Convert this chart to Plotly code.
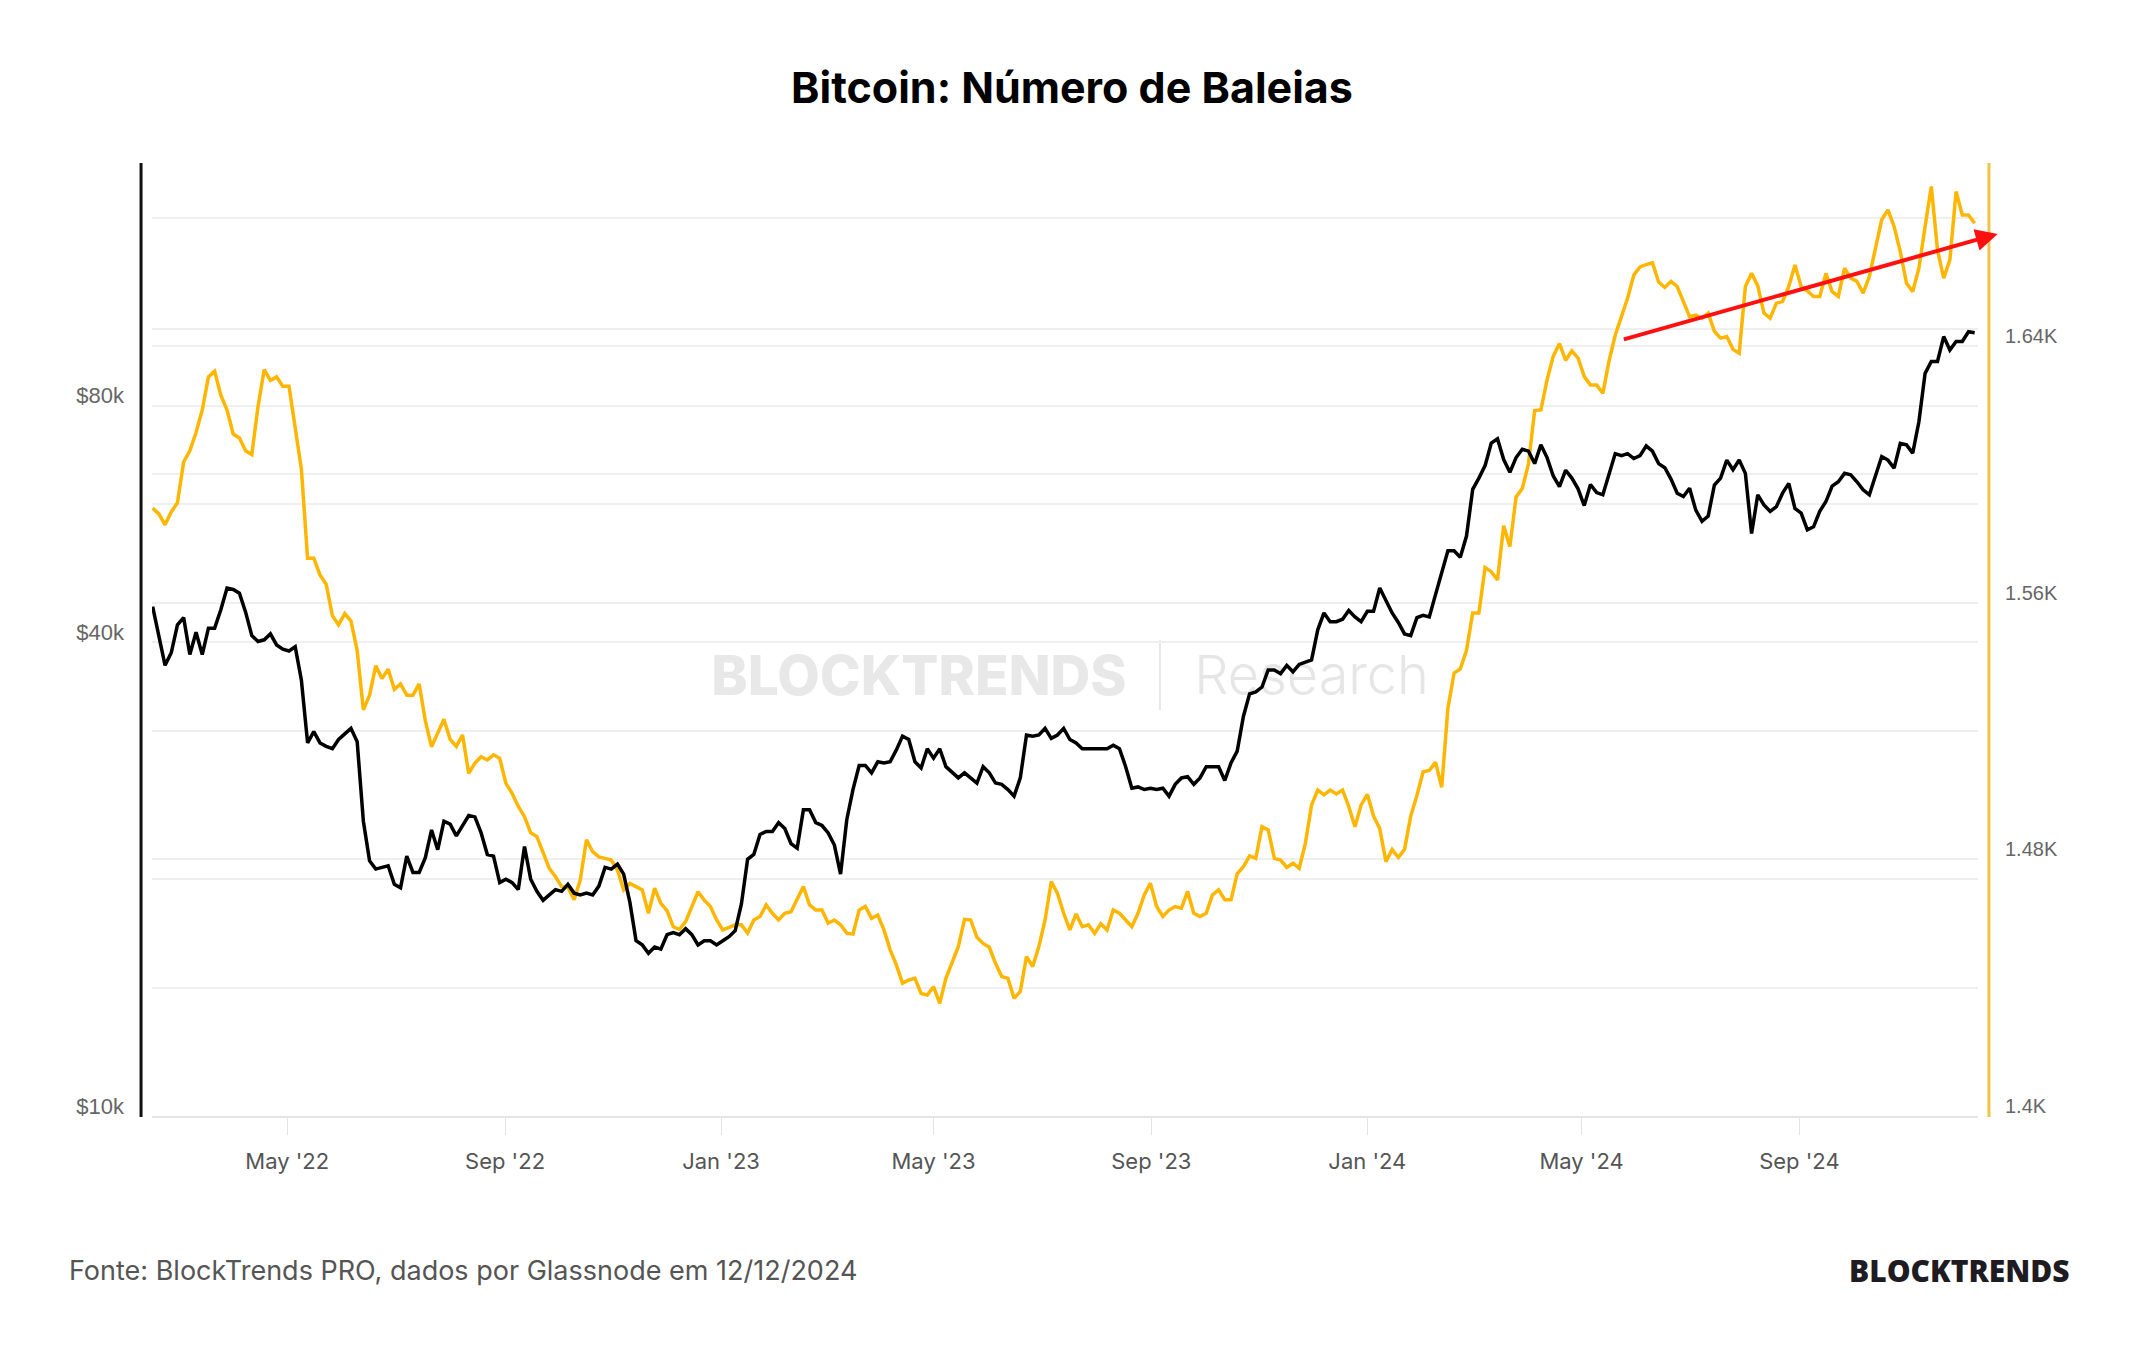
import pandas as pd
import plotly.graph_objects as go

# ---------------- data (read twice a week, every 3.5 days from 14 Feb 2022) ----------------
btc_price = [
    44400, 40800, 37400, 38800, 42100, 43000, 38600, 41200, 38600, 41700,
    41700, 44000, 46900, 46700, 46200, 43700, 40800, 40100, 40300, 41000,
    39700, 39200, 39000, 39500, 35800, 29800, 30800, 29800, 29500, 29300,
    30100, 30600, 31100, 29900, 23700, 21100, 20600, 20700, 20800, 19700,
    19500, 21400, 20400, 20400, 21300, 23100, 21800, 23700, 23500, 22700,
    23400, 24100, 24000, 22900, 21500, 21400, 19800, 20000, 19800, 19400,
    22000, 20000, 19300, 18800, 19100, 19400, 19300, 19700, 19200, 19100,
    19200, 19100, 19600, 20700, 20600, 20900, 20300, 18700, 16700, 16500,
    16100, 16400, 16300, 17000, 17100, 17000, 17300, 17000, 16500, 16700,
    16700, 16500, 16700, 16900, 17200, 18600, 21200, 21500, 22800, 23000,
    23000, 23600, 23200, 22200, 21900, 24500, 24500, 23600, 23400, 22900,
    22100, 20300, 23800, 26000, 27900, 27900, 27300, 28200, 28100, 28200,
    29200, 30400, 30100, 28200, 27700, 29300, 28500, 29300, 27800, 27300,
    26900, 27300, 26900, 26500, 27800, 27300, 26500, 26400, 26000, 25500,
    26900, 30500, 30400, 30500, 31100, 30200, 30500, 31100, 30100, 29800,
    29300, 29300, 29300, 29300, 29300, 29600, 29300, 27800, 26100, 26200,
    26000, 26100, 26000, 26100, 25500, 26400, 26900, 27000, 26400, 26900,
    27800, 27800, 27800, 26700, 28100, 29100, 32200, 34400, 34600, 35100,
    36900, 36900, 36500, 37400, 36700, 37500, 37800, 38000, 41500, 43600,
    42500, 42500, 42800, 43900, 43100, 42500, 43800, 43800, 46900, 45200,
    43600, 42400, 41000, 40800, 43000, 43300, 43100, 46000, 49200, 52300,
    52300, 51300, 54600, 62600, 64700, 67100, 71700, 72600, 68300, 65800,
    68700, 70400, 70000, 67500, 71300, 68700, 65100, 63100, 66200, 64700,
    62700, 59700, 63500, 62000, 61600, 65400, 69500, 69100, 69500, 68500,
    69100, 71100, 70000, 67500, 66700, 64500, 61900, 61300, 62800, 58900,
    57000, 57900, 63400, 64700, 68200, 66300, 68200, 65600, 55000, 61600,
    59800, 58700, 59500, 61900, 63700, 59200, 58400, 55600, 56100, 58700,
    60400, 63200, 64000, 65600, 65300, 64000, 62500, 61600, 65000, 68900,
    68200, 66600, 71600, 71300, 69600, 76300, 87900, 91000, 91000, 97900,
    94100, 96500, 96500, 99300, 99000,
]

whales = [
    1589.5, 1587.7, 1584.3, 1588.3, 1591.2, 1603.9, 1607.4, 1613.1, 1620.1, 1630.4,
    1632.2, 1624.7, 1620.1, 1612.6, 1611.4, 1607.4, 1606.2, 1621.2, 1632.7, 1629.3,
    1630.4, 1627.5, 1627.5, 1614.3, 1601.6, 1573.9, 1573.9, 1568.7, 1565.8, 1556.0,
    1553.1, 1556.6, 1554.3, 1545.1, 1526.6, 1531.2, 1540.4, 1536.4, 1539.3, 1533.0,
    1534.7, 1531.2, 1531.2, 1534.7, 1523.2, 1515.1, 1519.7, 1523.7, 1517.4, 1515.2,
    1518.8, 1506.8, 1510.0, 1512.0, 1511.0, 1512.6, 1511.5, 1503.7, 1500.6, 1496.5,
    1493.3, 1488.3, 1487.1, 1482.1, 1477.2, 1474.6, 1471.5, 1471.3, 1467.4, 1473.6,
    1486.1, 1482.4, 1480.8, 1480.3, 1479.8, 1476.7, 1470.5, 1472.5, 1471.5, 1470.5,
    1463.2, 1471.0, 1466.3, 1464.0, 1459.0, 1458.2, 1460.6, 1465.3, 1469.9, 1467.3,
    1465.3, 1461.1, 1458.0, 1458.8, 1459.6, 1459.6, 1457.0, 1461.1, 1462.2, 1465.8,
    1463.2, 1461.1, 1463.2, 1463.7, 1467.4, 1471.5, 1465.8, 1464.2, 1464.2, 1460.1,
    1461.1, 1459.6, 1457.0, 1456.7, 1464.2, 1465.3, 1461.6, 1462.7, 1458.0, 1451.8,
    1447.1, 1441.4, 1442.4, 1442.9, 1438.2, 1437.7, 1440.3, 1435.1, 1442.9, 1447.6,
    1452.8, 1461.3, 1461.1, 1455.7, 1453.8, 1452.6, 1447.6, 1443.5, 1442.9, 1436.7,
    1438.8, 1449.7, 1446.6, 1452.8, 1461.1, 1473.1, 1469.4, 1463.2, 1458.0, 1463.0,
    1459.0, 1459.6, 1456.9, 1459.9, 1458.0, 1464.2, 1463.2, 1461.1, 1459.0, 1463.2,
    1468.9, 1472.6, 1465.3, 1462.2, 1464.2, 1465.3, 1464.8, 1470.0, 1463.2, 1462.2,
    1463.2, 1468.9, 1470.5, 1467.4, 1467.4, 1475.5, 1477.7, 1481.1, 1480.3, 1490.2,
    1489.2, 1480.3, 1479.8, 1477.5, 1478.8, 1477.2, 1485.0, 1497.0, 1501.6, 1500.1,
    1501.6, 1500.4, 1501.6, 1496.5, 1490.2, 1497.0, 1500.3, 1493.5, 1489.6, 1479.3,
    1483.1, 1480.6, 1483.1, 1493.5, 1499.9, 1507.3, 1507.7, 1510.3, 1502.5, 1527.1,
    1538.1, 1539.4, 1545.2, 1556.8, 1556.8, 1571.0, 1569.7, 1567.1, 1584.0, 1577.5,
    1593.0, 1595.6, 1603.3, 1619.9, 1620.1, 1629.5, 1636.9, 1640.8, 1635.6, 1638.5,
    1636.3, 1630.5, 1627.9, 1627.9, 1625.3, 1635.4, 1643.4, 1649.2, 1655.0, 1662.2,
    1664.7, 1665.4, 1666.0, 1660.0, 1658.3, 1660.2, 1658.6, 1653.9, 1649.2, 1649.7,
    1648.7, 1650.3, 1644.6, 1642.5, 1643.0, 1639.0, 1637.8, 1658.6, 1662.7, 1658.8,
    1650.3, 1648.7, 1653.4, 1653.9, 1658.6, 1665.3, 1658.6, 1657.2, 1655.5, 1655.5,
    1662.7, 1657.0, 1655.5, 1664.3, 1661.2, 1660.2, 1656.5, 1661.7, 1671.1, 1679.4,
    1682.5, 1677.3, 1669.5, 1659.6, 1657.0, 1664.3, 1677.3, 1689.8, 1670.0, 1661.2,
    1666.9, 1688.2, 1680.9, 1680.9, 1678.3,
]

price_dates = pd.date_range("2022-02-14", periods=len(btc_price), freq="84h")
whale_dates = pd.date_range("2022-02-14", periods=len(whales), freq="84h")

x_tick_dates = ["2022-05-01", "2022-09-01", "2023-01-01", "2023-05-01",
                "2023-09-01", "2024-01-01", "2024-05-01", "2024-09-01"]
x_tick_labels = ["May '22", "Sep '22", "Jan '23", "May '23",
                 "Sep '23", "Jan '24", "May '24", "Sep '24"]

price_ticks = [10000, 20000, 40000, 60000, 80000, 100000]
price_labels = ["$10k", "", "$40k", "", "$80k", ""]

whale_ticks = [1400, 1440, 1480, 1520, 1560, 1600, 1640, 1680]
whale_labels = ["1.4K", "", "1.48K", "", "1.56K", "", "1.64K", ""]

trend_start = ("2024-05-24", 1642)
trend_end = ("2024-12-22", 1675)

title_text = "Bitcoin: Número de Baleias"
source_text = "Fonte: BlockTrends PRO, dados por Glassnode em 12/12/2024"
brand_text = "BLOCKTRENDS"

# ---------------- figure ----------------
YELLOW = "#FFB600"
GRID = "#efefef"

fig = go.Figure()
fig.add_trace(go.Scatter(x=whale_dates, y=whales, mode="lines", yaxis="y",
                         line=dict(color=YELLOW, width=3.5), name="Baleias"))
fig.add_trace(go.Scatter(x=price_dates, y=btc_price, mode="lines", yaxis="y2",
                         line=dict(color="#000000", width=3.5), name="Preço"))

fig.update_layout(
    width=2144, height=1350,
    margin=dict(l=152, r=166, t=163, b=234),
    paper_bgcolor="white", plot_bgcolor="white",
    showlegend=False,
    title=dict(text=title_text, x=0.5, xanchor="center", y=1 - 88 / 1350, yanchor="middle",
               font=dict(family="Inter", size=43, color="#000000", weight=700)),
    xaxis=dict(
        type="date", range=["2022-02-13 15:00", "2024-12-10 21:00"],
        tickvals=x_tick_dates, ticktext=x_tick_labels,
        ticks="outside", ticklen=17, tickcolor="#e4e4e4", tickwidth=1,
        showgrid=False, zeroline=False,
        showline=True, linecolor="#e4e4e4", linewidth=2,
        tickfont=dict(family="Inter", size=22, color="#555555"),
        ticklabelstandoff=8,
    ),
    yaxis=dict(
        side="right", range=[1400, 1697.1],
        tickvals=whale_ticks, ticktext=whale_labels,
        showgrid=True, gridcolor=GRID, gridwidth=1.5,
        zeroline=False, showline=False, ticks="",
        tickfont=dict(family="Liberation Sans", size=20, color="#666666"),
        ticklabelstandoff=26, ticklabelshift=-10,
    ),
    yaxis2=dict(
        overlaying="y", side="left", type="log", range=[4, 5.2114],
        tickvals=price_ticks, ticktext=price_labels,
        showgrid=True, gridcolor=GRID, gridwidth=1.5,
        zeroline=False, showline=False, ticks="",
        tickfont=dict(family="Liberation Sans", size=22, color="#666666"),
        ticklabelstandoff=27, ticklabelshift=-10,
    ),
)

# axis lines (left black, right yellow), slightly outside the plot area
fig.add_shape(type="line", xref="paper", yref="paper", x0=-0.006, x1=-0.006, y0=-0.001, y1=1,
              line=dict(color="#111111", width=3))
fig.add_shape(type="line", xref="paper", yref="paper", x0=1.006, x1=1.006, y0=-0.001, y1=1,
              line=dict(color="#F3C248", width=3))

# watermark (below the traces)
fig.add_shape(type="rect", xref="paper", yref="paper", x0=0.30, x1=0.54, y0=0.42, y1=0.51,
              line=dict(width=0), fillcolor="rgba(0,0,0,0)", layer="below",
              label=dict(text="BLOCKTRENDS", textposition="middle center",
                         font=dict(family="Inter", size=55, color="#e8e8e8", weight=800)))
fig.add_shape(type="line", xref="paper", yref="paper", x0=0.552, x1=0.552, y0=0.426, y1=0.4995,
              line=dict(color="#e8e8e8", width=2), layer="below")
fig.add_shape(type="rect", xref="paper", yref="paper", x0=0.56, x1=0.71, y0=0.42, y1=0.51,
              line=dict(width=0), fillcolor="rgba(0,0,0,0)", layer="below",
              label=dict(text="Research", textposition="middle center",
                         font=dict(family="Inter", size=54, color="#e6e6e6", weight=300)))

# red trend arrow
fig.add_annotation(x=trend_end[0], y=trend_end[1], xref="x", yref="y",
                   ax=trend_start[0], ay=trend_start[1], axref="x", ayref="y",
                   text="", showarrow=True, arrowhead=2, arrowsize=1.1, arrowwidth=4,
                   arrowcolor="#FF1010", standoff=0, startstandoff=0)

# footer
fig.add_annotation(text=source_text, xref="paper", yref="paper", x=-0.0466, y=-0.1616,
                   xanchor="left", yanchor="middle", showarrow=False,
                   font=dict(family="Inter", size=27, color="#555555"))
fig.add_annotation(text=brand_text, xref="paper", yref="paper", x=1.0515, y=-0.1616,
                   xanchor="right", yanchor="middle", showarrow=False,
                   font=dict(family="Open Sans", size=30, color="#1e1c22", weight=800))

fig.write_html("out.html")
